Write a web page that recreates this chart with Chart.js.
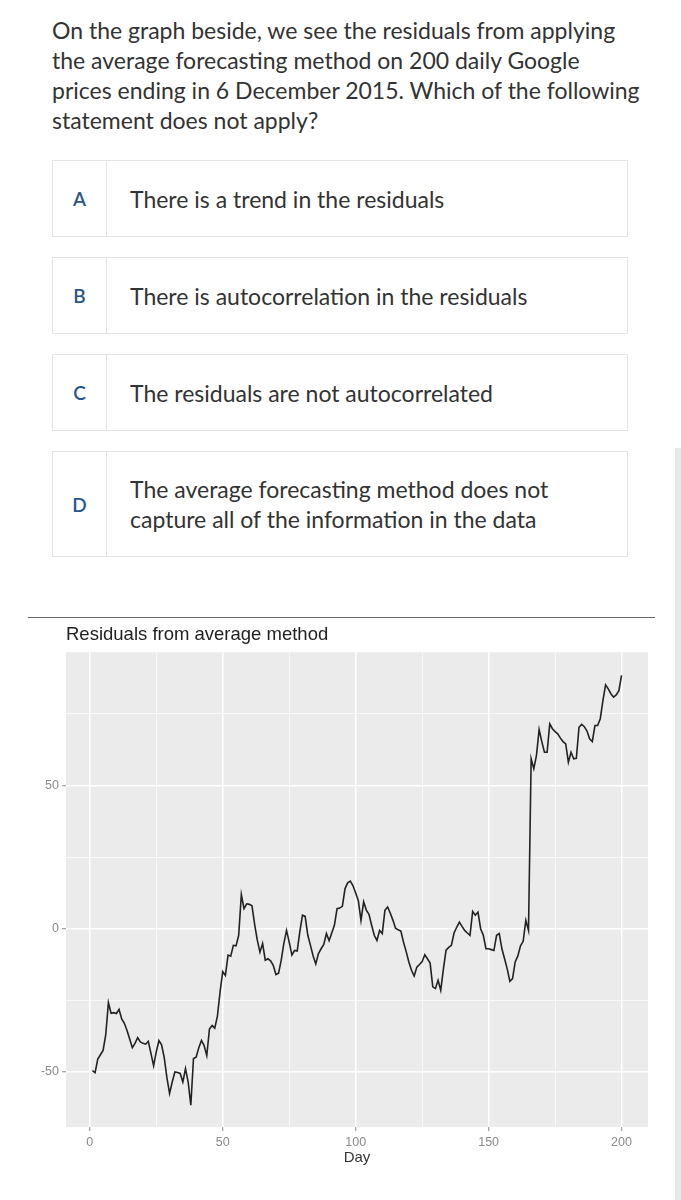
<!DOCTYPE html>
<html>
<head>
<meta charset="utf-8">
<script src="https://cdn.jsdelivr.net/npm/chart.js@4.4.0/dist/chart.umd.min.js"></script>
<style>
  body { margin: 0; background: #fff; width: 681px; height: 1200px; position: relative; overflow: hidden;
         font-family: Lato, "Noto Sans", sans-serif; color: #333; }
  .question { position: absolute; left: 52px; top: 15px; font-size: 23px; line-height: 30px; }
  .option { position: absolute; left: 52px; width: 576px; border: 1px solid #e4e4e4; box-sizing: border-box; }
  .option .letter { position: absolute; left: 0; top: 0; bottom: 0; width: 53px; border-right: 1px solid #e4e4e4;
                    display: flex; align-items: center; justify-content: center; color: #2a5490; font-weight: 600; font-size: 19px; }
  .option .text { position: absolute; left: 77px; top: 0; bottom: 0; display: flex; align-items: center;
                  font-size: 23px; line-height: 30px; }
  .rule { position: absolute; left: 28px; width: 627px; top: 617px; height: 1px; background: #666; }
  .strip { position: absolute; left: 675px; top: 448px; width: 6px; bottom: 0; background: #e8e8e8; }
  .chart-box { position: absolute; left: 0; top: 620px; width: 660px; height: 565px; }
</style>
</head>
<body>
<div class="question">On the graph beside, we see the residuals from applying<br>the average forecasting method on 200 daily Google<br>prices ending in 6 December 2015. Which of the following<br>statement does not apply?</div>

<div class="option" style="top:160px;height:77px"><div class="letter">A</div><div class="text">There is a trend in the residuals</div></div>
<div class="option" style="top:257px;height:77px"><div class="letter">B</div><div class="text">There is autocorrelation in the residuals</div></div>
<div class="option" style="top:354px;height:77px"><div class="letter">C</div><div class="text">The residuals are not autocorrelated</div></div>
<div class="option" style="top:451px;height:106px"><div class="letter">D</div><div class="text">The average forecasting method does not<br>capture all of the information in the data</div></div>

<div class="rule"></div>
<div class="strip"></div>
<div class="chart-box"><canvas id="residChart"></canvas></div>

<script>
// Data
const days = Array.from({ length: 200 }, (_, i) => i + 1);
const residuals = [
  -49.5, -50.2, -45.5, -44, -42.5, -37, -25.8, -29.5, -29.3, -29.6,
  -28.2, -31.5, -33, -35.5, -38.5, -41.5, -40, -38, -39.5, -40,
  -40.3, -39.3, -43.5, -47.8, -43, -39, -40.5, -45, -52, -57.5,
  -53.5, -50, -50.2, -50.5, -53.5, -48.8, -53.5, -61.6, -45.3, -44.8,
  -41.5, -39, -40.8, -44.3, -35, -33.8, -34.7, -30.5, -22, -15,
  -16.3, -9.2, -9.6, -5.8, -6, -2.3, 11.9, 7, 8.7, 8.5,
  8, 1.5, -4, -8.2, -5.2, -11, -10.5, -11.2, -12.8, -16,
  -15.5, -11, -5, -0.6, -4.7, -9.2, -7.6, -7.8, -1, 4.7,
  4.3, -2.3, -5.8, -9.5, -12.3, -8.7, -7, -5.5, -1.7, -4.2,
  -1.5, 1.2, 7, 7.2, 7.8, 14, 16, 16.6, 15, 12.5,
  9.8, 2.9, 9.4, 6.5, 5, 1.2, -2.3, -4.1, -0.6, -1.7,
  6.4, 7.6, 5.5, 3, 0.2, -0.4, -0.8, -4.7, -8, -11.6,
  -14.5, -16.5, -13.4, -12.5, -11.5, -9.1, -10.5, -12, -20.3, -20.9,
  -18, -21.5, -14, -7.5, -6.5, -5.8, -1.5, 0.5, 2.3, 0.8,
  -0.6, -1.5, -2.3, 6, 4.7, 5.8, 0, -2.3, -7, -7,
  -7.3, -7.6, -2.3, -1.7, -7, -10.5, -14, -18.4, -17.4, -11.6,
  -9.5, -6, -4.4, 2.9, -0.6, 59.3, 55.8, 60.5, 69.5, 65.3,
  61.6, 61.6, 71.5, 69.8, 68.8, 68, 66.5, 65.3, 64.5, 58.1,
  61.6, 59.3, 59.5, 70.3, 71.3, 70.5, 69, 66.3, 65.3, 70.9,
  70.9, 73.3, 79.7, 85.1, 83.7, 82, 80.8, 81.6, 83.1, 88.4
];
const xTicks = [0, 25, 50, 75, 100, 125, 150, 175, 200];
const xLabels = [0, 50, 100, 150, 200];
const yTicks = [-50, -25, 0, 25, 50, 75];
const yLabels = [-50, 0, 50];

// grey ggplot panel
const panelBg = {
  id: 'panelBg',
  beforeDraw(chart) {
    const { ctx, chartArea: a } = chart;
    ctx.save();
    ctx.fillStyle = '#ebebeb';
    ctx.fillRect(a.left, a.top, a.right - a.left, a.bottom - a.top);
    ctx.restore();
  }
};

const isMajor = (list, ctx) => !!ctx.tick && list.includes(ctx.tick.value);
const tickFont = { family: '"Liberation Sans", Arial, sans-serif', size: 12.5 };

new Chart(document.getElementById('residChart'), {
  type: 'line',
  data: {
    labels: days,
    datasets: [{
      label: 'Residuals',
      data: residuals,
      borderColor: '#222',
      borderWidth: 1.6,
      pointRadius: 0,
      tension: 0
    }]
  },
  options: {
    responsive: true,
    maintainAspectRatio: false,
    animation: false,
    layout: { padding: { right: 12 } },
    plugins: {
      legend: { display: false },
      tooltip: { enabled: false },
      title: {
        display: true,
        text: 'Residuals from average method',
        align: 'start',
        fullSize: false,
        color: '#222',
        font: { family: '"Liberation Sans", Arial, sans-serif', size: 18.5, weight: 'normal' },
        padding: { top: 4, bottom: 6 }
      }
    },
    scales: {
      x: {
        type: 'linear',
        min: -8.95,
        max: 209.95,
        afterBuildTicks: axis => { axis.ticks = xTicks.map(v => ({ value: v })); },
        afterFit: axis => { axis.height = 58; },
        border: { display: false },
        grid: {
          color: '#ffffff',
          lineWidth: ctx => isMajor(xLabels, ctx) ? 1.5 : 0.7,
          tickColor: ctx => isMajor(xLabels, ctx) ? '#8a8a8a' : 'rgba(0,0,0,0)',
          tickLength: 4,
          tickWidth: 1
        },
        ticks: {
          autoSkip: false,
          maxRotation: 0,
          padding: 4,
          color: '#8a8a8a',
          font: tickFont,
          callback: v => xLabels.includes(v) ? String(v) : ''
        },
        title: {
          display: true,
          text: 'Day',
          color: '#333',
          font: { family: '"Liberation Sans", Arial, sans-serif', size: 15 },
          padding: { top: 0, bottom: 18 }
        }
      },
      y: {
        min: -69.2,
        max: 96.5,
        afterBuildTicks: axis => { axis.ticks = yTicks.map(v => ({ value: v })); },
        afterFit: axis => { axis.width = 66; },
        border: { display: false },
        grid: {
          color: '#ffffff',
          lineWidth: ctx => isMajor(yLabels, ctx) ? 1.5 : 0.7,
          tickColor: ctx => isMajor(yLabels, ctx) ? '#8a8a8a' : 'rgba(0,0,0,0)',
          tickLength: 4,
          tickWidth: 1
        },
        ticks: {
          autoSkip: false,
          padding: 3,
          color: '#8a8a8a',
          font: tickFont,
          callback: v => yLabels.includes(v) ? String(v) : ''
        }
      }
    }
  },
  plugins: [panelBg]
});
</script>
</body>
</html>
